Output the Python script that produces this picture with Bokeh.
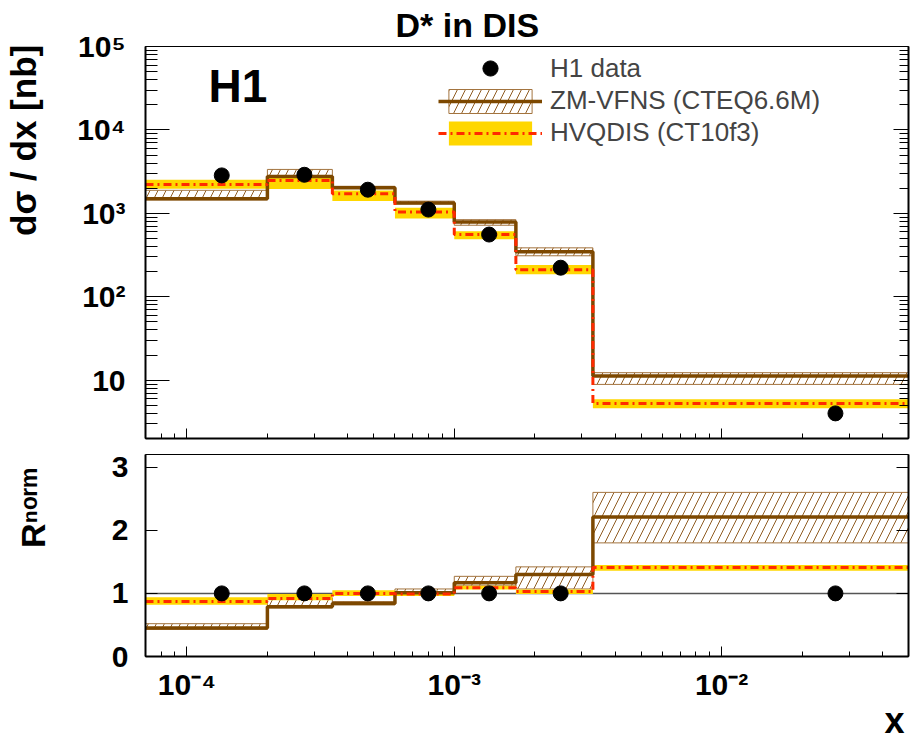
import math
from bokeh.plotting import figure
from bokeh.models import (Label, Legend, LegendItem, FixedTicker, LogAxis, LinearAxis,
                          Span, Range1d, Title)
from bokeh.layouts import column
from bokeh.embed import file_html
from bokeh.resources import INLINE

# ---------------- data ----------------
bin_edges = [7e-5, 2e-4, 3.5e-4, 6e-4, 1e-3, 1.7e-3, 3.3e-3, 5e-2]
x_points = [1.35e-4, 2.75e-4, 4.75e-4, 8.0e-4, 1.35e-3, 2.5e-3, 2.665e-2]

h1_xsec = [2850, 2900, 1920, 1110, 557, 223, 4.0]

zm_xsec = [1500, 2770, 2030, 1330, 790, 346, 11.2]
zm_xsec_up = [1890, 3360, 2110, 1400, 840, 386, 12.3]
zm_xsec_lo = [1450, 2700, 1990, 1300, 720, 310, 8.9]

hv_xsec = [2224, 2483, 1718, 1040, 557, 211, 5.27]
hv_xsec_up = [2523, 2740, 1880, 1170, 610, 240, 5.9]
hv_xsec_lo = [1972, 1960, 1410, 870, 490, 186, 4.6]

h1_ratio = [1.0, 1.0, 1.0, 1.0, 1.0, 1.0, 1.0]
zm_ratio = [0.45, 0.79, 0.84, 1.01, 1.17, 1.30, 2.21]
zm_ratio_up = [0.52, 0.93, 0.87, 1.07, 1.27, 1.42, 2.60]
zm_ratio_lo = [0.43, 0.77, 0.82, 0.99, 1.12, 1.07, 1.80]
hv_ratio = [0.87, 0.92, 1.00, 0.99, 1.09, 1.03, 1.41]
hv_ratio_up = [0.94, 0.99, 1.05, 1.03, 1.12, 1.06, 1.45]
hv_ratio_lo = [0.82, 0.89, 0.96, 0.96, 1.06, 0.99, 1.36]

x_tick_values = [1e-4, 1e-3, 1e-2]
x_tick_labels = ["10⁻⁴", "10⁻³", "10⁻²"]
y_tick_values = [10, 100, 1000, 10000, 100000]
y_tick_labels = ["10", "10²", "10³", "10⁴", "10⁵"]
r_tick_values = [0, 1, 2, 3]
r_tick_labels = ["0", "1", "2", "3"]

legend_labels = ["H1 data", "ZM-VFNS (CTEQ6.6M)", "HVQDIS (CT10f3)"]
title_text = "D* in DIS"
experiment_text = "H1"
y_title = "dσ / dx [nb]"
r_title = "Rⁿᵒʳᵐ"
x_title = "x"

# ---------------- styles ----------------
FONT = "Liberation Sans"
BROWN = "#7d4800"
HATCH = "#8f5c22"
BAND_EDGE = "#a3743f"
YELLOW = "#ffd700"
RED = "#ff2a00"
NBSP = "\u00a0"

X_RANGE = (7e-5, 5e-2)
Y_RANGE = (2, 1e5)
R_RANGE = (0, 3.2)

x_minor = [k * 10.0 ** n for n in range(-5, -1) for k in range(2, 10)
           if X_RANGE[0] * 0.999 <= k * 10.0 ** n <= X_RANGE[1] * 1.001]
y_minor = [k * 10.0 ** n for n in range(0, 5) for k in range(2, 10)
           if Y_RANGE[0] <= k * 10.0 ** n <= Y_RANGE[1]]


def style_axis(ax, major_in, minor_in, width=2, labels=None, standoff=0):
    ax.major_tick_in = major_in
    ax.major_tick_out = 0
    ax.minor_tick_in = minor_in
    ax.minor_tick_out = 0
    ax.axis_line_width = width
    ax.axis_line_color = "black"
    ax.major_tick_line_color = "black"
    ax.minor_tick_line_color = "black"
    ax.major_tick_line_width = 1
    ax.minor_tick_line_width = 1
    if labels is None:
        ax.major_label_text_font_size = "2px"
        ax.major_label_text_color = None
        ax.major_label_standoff = 0
    else:
        ax.major_label_overrides = labels
        ax.major_label_text_font = FONT
        ax.major_label_text_font_style = "bold"
        ax.major_label_text_font_size = "30px"
        ax.major_label_text_color = "black"
        ax.major_label_standoff = standoff


def axis_title(ax, text, size, standoff, pad):
    # leading no-break spaces push the (centred) label towards the top
    ax.axis_label = NBSP * pad + text
    ax.axis_label_standoff = standoff
    ax.axis_label_text_font = FONT
    ax.axis_label_text_font_style = "bold"
    ax.axis_label_text_font_size = f"{size}px"
    ax.axis_label_text_color = "black"


def side_title(text, size, align, offset, standoff):
    return Title(text=text, align=align, offset=offset, standoff=standoff,
                 text_font=FONT, text_font_style="bold",
                 text_font_size=f"{size}px", text_color="black")


W = 912

# ---------------- top panel ----------------
p1 = figure(width=W, height=446, x_axis_type="log", y_axis_type="log",
            x_range=Range1d(*X_RANGE), y_range=Range1d(*Y_RANGE),
            output_backend="svg", toolbar_location=None,
            min_border_left=145, min_border_right=4, min_border_top=44,
            min_border_bottom=8)
p1.title = side_title(title_text, 34, "left", 250, 6)
p1.xgrid.visible = False
p1.ygrid.visible = False
p1.outline_line_color = "black"
p1.outline_line_width = 1
p1.background_fill_color = "white"
p1.border_fill_color = "white"

p1.xaxis[0].ticker = FixedTicker(ticks=x_tick_values, minor_ticks=x_minor)
style_axis(p1.xaxis[0], 10, 5)
p1.yaxis[0].ticker = FixedTicker(ticks=y_tick_values, minor_ticks=y_minor)
style_axis(p1.yaxis[0], 24, 12, labels=dict(zip(y_tick_values, y_tick_labels)),
           standoff=20)
axis_title(p1.yaxis[0], y_title, 35, 31, 21)
ry1 = LogAxis(ticker=FixedTicker(ticks=y_tick_values, minor_ticks=y_minor))
style_axis(ry1, 15, 9)
p1.add_layout(ry1, "right")

left = bin_edges[:-1]
right = bin_edges[1:]

zm_band = p1.quad(left=left, right=right, top=zm_xsec_up, bottom=zm_xsec_lo,
                  fill_color=None, line_color=BAND_EDGE, line_width=1,
                  hatch_pattern="/", hatch_color=HATCH, hatch_scale=16,
                  hatch_weight=1)
hv_band = p1.quad(left=left, right=right, top=hv_xsec_up, bottom=hv_xsec_lo,
                  fill_color=YELLOW, line_color=None)
zm_line = p1.step(x=bin_edges, y=zm_xsec + [zm_xsec[-1]], mode="after",
                  line_color=BROWN, line_width=3.5)
hv_line = p1.step(x=bin_edges, y=hv_xsec + [hv_xsec[-1]], mode="after",
                  line_color=RED, line_width=3, line_dash="8 4 2 4")
pts = p1.scatter(x=x_points, y=h1_xsec, size=15, color="black")

leg1 = Legend(items=[LegendItem(label=legend_labels[0], renderers=[pts])],
              location=(293, 351), glyph_width=104, glyph_height=38,
              label_standoff=8, padding=1, margin=0, spacing=1,
              border_line_color=None, background_fill_alpha=0,
              label_text_font=FONT, label_text_font_size="26px")
leg2 = Legend(items=[LegendItem(label=legend_labels[1], renderers=[zm_band, zm_line]),
                     LegendItem(label=legend_labels[2], renderers=[hv_band, hv_line])],
              location=(293, 290), glyph_width=104, glyph_height=30,
              label_standoff=8, padding=1, margin=0, spacing=1,
              border_line_color=None, background_fill_alpha=0,
              label_text_font=FONT, label_text_font_size="26px")
p1.add_layout(leg1)
p1.add_layout(leg2)

p1.add_layout(Label(x=X_RANGE[0], y=Y_RANGE[1], text=experiment_text,
                    x_offset=63, y_offset=-39, text_font=FONT,
                    text_font_size="46px", text_font_style="bold",
                    text_align="left", text_baseline="alphabetic",
                    text_color="black"))

# ---------------- ratio panel ----------------
p2 = figure(width=W, height=294, x_axis_type="log",
            x_range=p1.x_range, y_range=Range1d(*R_RANGE),
            output_backend="svg", toolbar_location=None,
            min_border_left=145, min_border_right=4, min_border_top=8,
            min_border_bottom=84)
p2.xgrid.visible = False
p2.ygrid.visible = False
p2.outline_line_color = "black"
p2.outline_line_width = 1
p2.background_fill_color = "white"
p2.border_fill_color = "white"

p2.xaxis[0].ticker = FixedTicker(ticks=x_tick_values, minor_ticks=x_minor)
style_axis(p2.xaxis[0], 10, 5, labels=dict(zip(x_tick_values, x_tick_labels)),
           standoff=11)
p2.yaxis[0].ticker = FixedTicker(ticks=r_tick_values, minor_ticks=[])
style_axis(p2.yaxis[0], 12, 0, labels=dict(zip(r_tick_values, r_tick_labels)),
           standoff=17)
axis_title(p2.yaxis[0], r_title, 34, 57, 10)
ry2 = LinearAxis(ticker=FixedTicker(ticks=r_tick_values, minor_ticks=[]))
style_axis(ry2, 12, 0)
p2.add_layout(ry2, "right")
p2.add_layout(side_title(x_title, 36, "right", 4, -12), "below")

p2.add_layout(Span(location=1, dimension="width", line_color="#555555",
                   line_width=1.5, level="underlay"))

p2.quad(left=left, right=right, top=zm_ratio_up, bottom=zm_ratio_lo,
        fill_color=None, line_color=BAND_EDGE, line_width=1,
        hatch_pattern="/", hatch_color=HATCH, hatch_scale=16, hatch_weight=1)
p2.quad(left=left, right=right, top=hv_ratio_up, bottom=hv_ratio_lo,
        fill_color=YELLOW, line_color=None)
p2.step(x=bin_edges, y=zm_ratio + [zm_ratio[-1]], mode="after",
        line_color=BROWN, line_width=3.5)
p2.step(x=bin_edges, y=hv_ratio + [hv_ratio[-1]], mode="after",
        line_color=RED, line_width=3, line_dash="8 4 2 4")
p2.scatter(x=x_points, y=h1_ratio, size=15, color="black")

layout = column(p1, p2, spacing=0)
open("out.html", "w").write(file_html(layout, INLINE))
